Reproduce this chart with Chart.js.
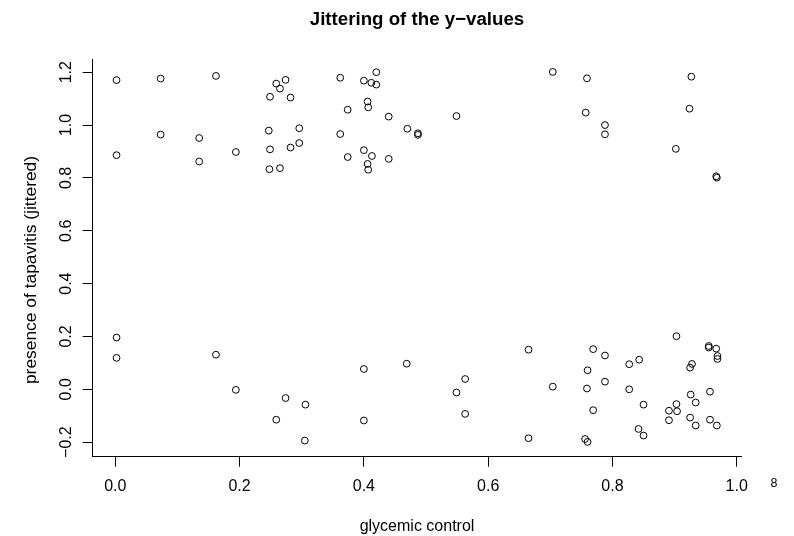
<!DOCTYPE html>
<html>
<head>
<meta charset="utf-8">
<script src="https://cdn.jsdelivr.net/npm/chart.js@4.4.0/dist/chart.umd.min.js"></script>
<style>
html,body{margin:0;padding:0;background:#fff;}
</style>
</head>
<body>
<canvas id="c" width="794" height="536"></canvas>
<script>
/* ---------- DATA ---------- */
// glycemic control (x) and jittered presence of tapavitis (y), one entry per subject
const glycemic = [
  0.002,0.073,0.162,0.259,0.274,0.265,0.249,0.282,0.247,0.296,0.073,0.135,0.002,0.194,0.249,0.282,0.296,0.135,0.248,0.265,
  0.362,0.420,0.400,0.412,0.420,0.406,0.407,0.374,0.440,0.549,0.470,0.487,0.487,0.362,0.400,0.374,0.413,0.440,0.406,0.407,
  0.704,0.759,0.927,0.757,0.924,0.788,0.788,0.902,0.967,0.968,
  0.002,0.002,0.162,0.194,0.274,0.259,0.306,0.305,
  0.400,0.469,0.563,0.549,0.563,0.400,
  0.665,0.769,0.788,0.903,0.955,0.955,0.967,0.969,0.969,0.843,0.827,0.928,0.925,0.760,0.788,0.704,0.759,0.827,0.957,0.926,
  0.934,0.850,0.903,0.891,0.904,0.769,0.891,0.925,0.957,0.934,0.968,0.842,0.850,0.665,0.756,0.760
];
const tapavitis = [
  1.170,1.176,1.186,1.157,1.171,1.138,1.107,1.104,0.979,0.988,0.964,0.951,0.886,0.898,0.908,0.915,0.932,0.862,0.833,0.837,
  1.179,1.200,1.168,1.160,1.153,1.089,1.067,1.058,1.032,1.034,0.986,0.969,0.963,0.966,0.905,0.879,0.883,0.872,0.853,0.831,
  1.201,1.177,1.183,1.047,1.062,1.000,0.965,0.910,0.806,0.801,
  0.196,0.119,0.131,-0.002,-0.033,-0.115,-0.058,-0.194,
  0.077,0.097,0.039,-0.012,-0.093,-0.118,
  0.150,0.152,0.128,0.201,0.164,0.158,0.154,0.126,0.115,0.112,0.095,0.096,0.082,0.072,0.029,0.010,0.003,0.000,-0.009,-0.020,
  -0.050,-0.058,-0.056,-0.081,-0.083,-0.079,-0.117,-0.107,-0.115,-0.137,-0.137,-0.150,-0.175,-0.185,-0.188,-0.199
];
const xTicks = [0, 0.2, 0.4, 0.6, 0.8, 1.0];
const yTicks = [-0.2, 0, 0.2, 0.4, 0.6, 0.8, 1.0, 1.2];

/* ---------- HELPERS ---------- */
const FAM = '"Liberation Sans", Arial, Helvetica, sans-serif';
const fmt = v => (v < 0 ? '\u2212' : '') + Math.abs(v).toFixed(1);
const setTicks = vals => s => { s.ticks = vals.map(v => ({value: v})); };

// title centred over the plot, rotated y tick labels (R style), y title and the stray "8"
const axisText = {
  id: 'axisText',
  afterDraw(chart){
    const {ctx, chartArea:ca, scales:{y}} = chart;
    ctx.save();
    ctx.fillStyle = '#000'; ctx.textAlign = 'center'; ctx.textBaseline = 'middle';
    ctx.font = `bold 18.7px ${FAM}`;
    ctx.fillText('Jittering of the y\u2212values', (ca.left + ca.right) / 2, 19.5);
    ctx.font = `16px ${FAM}`;
    y.ticks.forEach(t => {
      ctx.save(); ctx.translate(66.5, y.getPixelForValue(t.value)); ctx.rotate(-Math.PI/2);
      ctx.fillText(fmt(t.value), 0, 0); ctx.restore();
    });
    ctx.font = `17.4px ${FAM}`;
    ctx.save(); ctx.translate(31.5, 270); ctx.rotate(-Math.PI/2);
    ctx.fillText('presence of tapavitis (jittered)', 0, 0); ctx.restore();
    ctx.font = `12.5px ${FAM}`;
    ctx.fillText('8', 774, 484);
    ctx.restore();
  }
};

/* ---------- CHART ---------- */
new Chart(document.getElementById('c').getContext('2d'), {
  type: 'scatter',
  data: {datasets: [{
    data: glycemic.map((x, i) => ({x, y: tapavitis[i]})),
    pointStyle: 'circle', radius: 3.4, borderWidth: 1,
    borderColor: '#000', backgroundColor: 'rgba(0,0,0,0)'
  }]},
  options: {
    responsive: false, animation: false, devicePixelRatio: 1,
    layout: {padding: {left: 0, right: 52.3, top: 59, bottom: 0}},
    plugins: {legend: {display: false}, tooltip: {enabled: false}, title: {display: false}},
    scales: {
      x: {
        type: 'linear', min: -0.037, max: 1.008,
        afterBuildTicks: setTicks(xTicks), afterFit: s => { s.height = 79.3; },
        border: {display: true, color: '#000', width: 1},
        grid: {drawOnChartArea: false, drawTicks: true, tickLength: 10, color: '#000'},
        ticks: {color: '#000', font: {family: FAM, size: 16}, padding: 10.4, maxRotation: 0, callback: v => fmt(v)},
        title: {display: true, text: 'glycemic control', color: '#000', font: {family: FAM, size: 16}, padding: {top: 0, bottom: 0}}
      },
      y: {
        type: 'linear', min: -0.255, max: 1.25,
        afterBuildTicks: setTicks(yTicks), afterFit: s => { s.width = 92.3; },
        border: {display: true, color: '#000', width: 1},
        grid: {drawOnChartArea: false, drawTicks: true, tickLength: 9.6, color: '#000'},
        ticks: {display: false}
      }
    }
  },
  plugins: [axisText]
});
</script>
</body>
</html>
